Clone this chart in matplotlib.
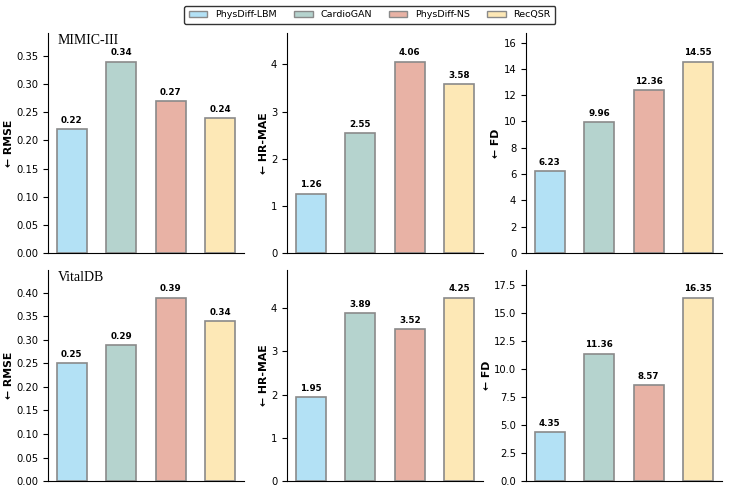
import matplotlib
matplotlib.use("Agg")
import matplotlib.pyplot as plt
from matplotlib.patches import Patch

methods = ["PhysDiff-LBM", "CardioGAN", "PhysDiff-NS", "RecQSR"]
colors = ["#b3e1f5", "#b5d3ce", "#e8b2a5", "#fde8b6"]

datasets = ["MIMIC-III", "VitalDB"]
metrics = ["RMSE", "HR-MAE", "FD"]

mimic_rmse = [0.22, 0.34, 0.27, 0.24]
mimic_hrmae = [1.26, 2.55, 4.06, 3.58]
mimic_fd = [6.23, 9.96, 12.36, 14.55]

vital_rmse = [0.25, 0.29, 0.39, 0.34]
vital_hrmae = [1.95, 3.89, 3.52, 4.25]
vital_fd = [4.35, 11.36, 8.57, 16.35]

values = [
    [mimic_rmse, mimic_hrmae, mimic_fd],
    [vital_rmse, vital_hrmae, vital_fd],
]

fig, axes = plt.subplots(2, 3, figsize=(7.32, 4.99), dpi=100,
                         gridspec_kw={"height_ratios": [220, 211]})
fig.subplots_adjust(left=0.0656, right=0.9863, top=0.934, bottom=0.036,
                    wspace=0.219, hspace=0.079)

x = list(range(len(methods)))
for r, ds in enumerate(datasets):
    for c, metric in enumerate(metrics):
        ax = axes[r, c]
        vals = values[r][c]
        ax.bar(x, vals, width=0.6, color=colors, edgecolor="#8a8a8a", linewidth=1.2)
        for xi, v in zip(x, vals):
            ax.text(xi, v + max(vals) * 0.022, f"{v:.2f}", ha="center", va="bottom",
                    fontsize=6.3, fontweight="bold")
        ax.set_ylim(0, max(vals) * 1.15)
        ax.set_xticks([])
        ax.spines["top"].set_visible(False)
        ax.spines["right"].set_visible(False)
        ax.tick_params(axis="y", labelsize=7.2)
        ax.set_ylabel("\u2190 " + metric, fontsize=7.8, fontweight="bold", labelpad=1.5)
        if c == 0:
            ax.text(0.05, 0.995, ds, transform=ax.transAxes, ha="left", va="top",
                    fontsize=10, family="Liberation Serif")

handles = [Patch(facecolor=col, edgecolor="#8a8a8a", label=m) for col, m in zip(colors, methods)]
fig.legend(handles=handles, loc="upper center", ncol=4, bbox_to_anchor=(0.505, 0.998),
           fontsize=6.8, frameon=True, edgecolor="black", handlelength=2.0,
           columnspacing=1.8, borderpad=0.5)

fig.savefig("out.png", dpi=100)
